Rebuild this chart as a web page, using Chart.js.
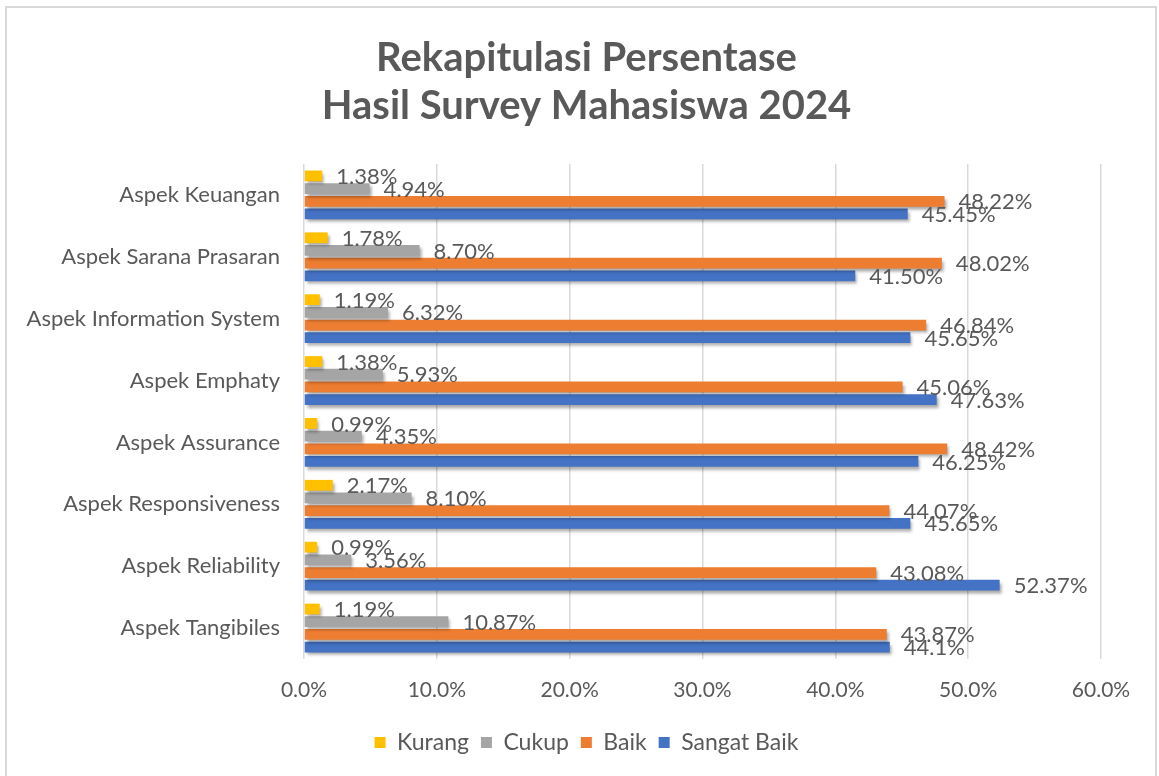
<!DOCTYPE html>
<html>
<head>
<meta charset="utf-8">
<script src="https://cdn.jsdelivr.net/npm/chart.js@4.4.1/dist/chart.umd.min.js"></script>
<style>
  html, body { margin: 0; padding: 0; background: #ffffff; overflow: hidden; }
  #wrap { position: relative; width: 1159px; height: 776px; }
</style>
</head>
<body>
<div id="wrap"><canvas id="chart"></canvas></div>
<script>
// Survey aspects, listed top to bottom
const categories = [
  'Aspek Keuangan',
  'Aspek Sarana Prasaran',
  'Aspek Information System',
  'Aspek Emphaty',
  'Aspek Assurance',
  'Aspek Responsiveness',
  'Aspek Reliability',
  'Aspek Tangibiles'
];

// Percentages per rating (kept as written so the value labels keep their decimals)
const kurang     = ['1.38', '1.78', '1.19', '1.38', '0.99', '2.17', '0.99', '1.19'];
const cukup      = ['4.94', '8.70', '6.32', '5.93', '4.35', '8.10', '3.56', '10.87'];
const baik       = ['48.22', '48.02', '46.84', '45.06', '48.42', '44.07', '43.08', '43.87'];
const sangatBaik = ['45.45', '41.50', '45.65', '47.63', '46.25', '45.65', '52.37', '44.1'];

const seriesNames = ['Kurang', 'Cukup', 'Baik', 'Sangat Baik'];
const xTickLabels = ['0.0%', '10.0%', '20.0%', '30.0%', '40.0%', '50.0%', '60.0%'];

const titleLines = ['Rekapitulasi Persentase', 'Hasil Survey Mahasiswa 2024'];

const colors = ['#FFC000', '#A5A5A5', '#ED7D31', '#4472C4'];
const textGray = '#595959';
const FONT = 'Lato, "Open Sans", sans-serif';

const seriesData = [kurang, cukup, baik, sangatBaik];

// Thin light frame around the chart
const framePlugin = {
  id: 'frame',
  beforeDraw(chart) {
    const ctx = chart.ctx;
    ctx.save();
    ctx.fillStyle = '#ffffff';
    ctx.fillRect(0, 0, chart.width, chart.height);
    ctx.strokeStyle = '#d9d9d9';
    ctx.lineWidth = 2;
    ctx.strokeRect(6, 7, 1150, 800);
    ctx.restore();
  }
};

// Center the title and legend on the whole frame rather than on the padded box
const centerBlocksPlugin = {
  id: 'centerBlocks',
  afterLayout(chart) {
    const shift = 26;
    [chart.titleBlock, chart.legend].forEach(b => {
      if (b) { b.left += shift; b.right += shift; }
    });
  }
};

// Soft drop shadow under the bars
const shadowPlugin = {
  id: 'barShadow',
  beforeDatasetsDraw(chart) {
    const ctx = chart.ctx;
    ctx.save();
    ctx.shadowColor = 'rgba(0,0,0,0.35)';
    ctx.shadowBlur = 3;
    ctx.shadowOffsetX = 2;
    ctx.shadowOffsetY = 3;
  },
  afterDatasetsDraw(chart) {
    chart.ctx.restore();
  }
};

// Value labels to the right of each bar end
const valueLabelPlugin = {
  id: 'valueLabels',
  afterDatasetsDraw(chart) {
    const ctx = chart.ctx;
    ctx.save();
    ctx.font = '22px ' + FONT;
    ctx.fillStyle = textGray;
    ctx.textAlign = 'left';
    ctx.textBaseline = 'middle';
    chart.data.datasets.forEach((ds, di) => {
      const meta = chart.getDatasetMeta(di);
      if (meta.hidden) return;
      meta.data.forEach((bar, i) => {
        ctx.fillText(ds.data[i] + '%', bar.x + 14, bar.y + 1);
      });
    });
    ctx.restore();
  }
};

const ctx = document.getElementById('chart').getContext('2d');
new Chart(ctx, {
  type: 'bar',
  data: {
    labels: categories,
    datasets: seriesNames.map((name, k) => ({
      label: name,
      data: seriesData[k],
      backgroundColor: colors[k],
      borderWidth: 0,
      categoryPercentage: 0.82,
      barPercentage: 0.85
    }))
  },
  options: {
    indexAxis: 'y',
    responsive: true,
    maintainAspectRatio: false,
    animation: false,
    layout: { padding: { top: 0, left: 20, right: 58, bottom: 12 } },
    scales: {
      x: {
        min: 0,
        max: 60,
        ticks: {
          stepSize: 10,
          padding: 19,
          color: textGray,
          font: { family: FONT, size: 21 },
          callback: (v, i) => xTickLabels[i]
        },
        grid: { color: '#d9d9d9', lineWidth: 1.5, drawTicks: false },
        border: { display: false },
        afterFit(scale) { scale.height = 60; }
      },
      y: {
        ticks: {
          padding: 24,
          color: textGray,
          font: { family: FONT, size: 22 }
        },
        grid: { display: false, drawTicks: false },
        border: { display: false },
        afterFit(scale) { scale.width = 284; }
      }
    },
    plugins: {
      title: {
        display: true,
        text: titleLines,
        color: textGray,
        font: { family: FONT, size: 40, weight: 'bold', lineHeight: 1.2 },
        padding: { top: 34, bottom: 34 }
      },
      legend: {
        position: 'bottom',
        labels: {
          color: textGray,
          font: { family: FONT, size: 23 },
          boxWidth: 11,
          boxHeight: 11,
          padding: 12
        }
      },
      tooltip: { enabled: false }
    }
  },
  plugins: [framePlugin, centerBlocksPlugin, shadowPlugin, valueLabelPlugin]
});
</script>
</body>
</html>
